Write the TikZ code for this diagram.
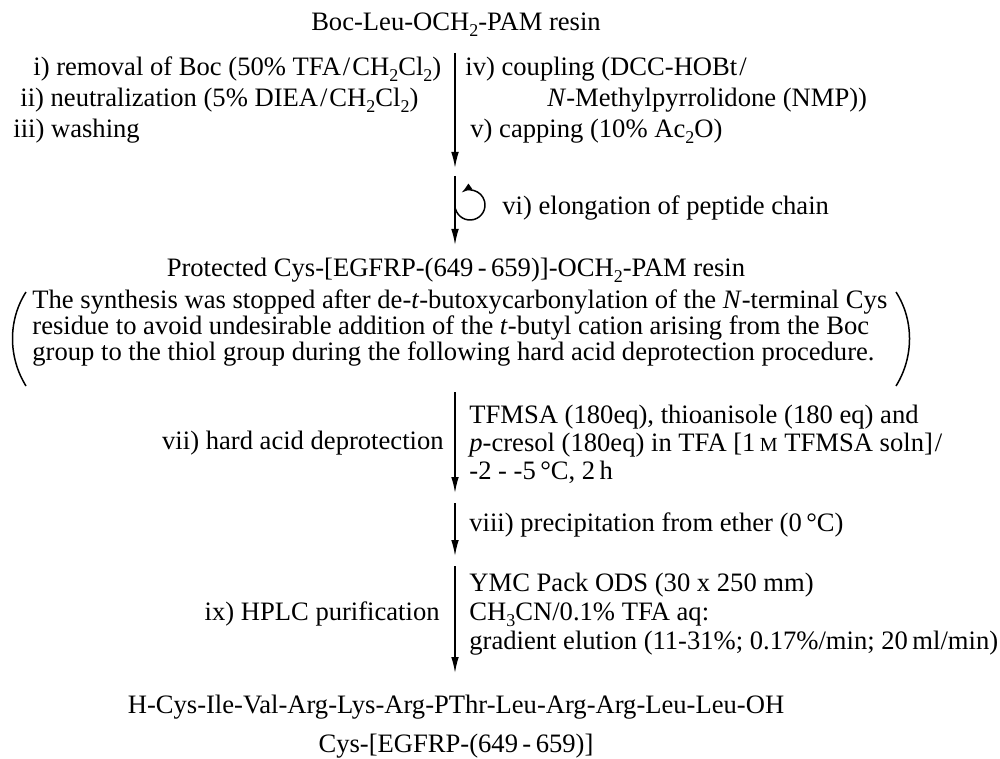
\documentclass[tikz,border=0pt]{standalone}
\usepackage{fontspec}
\setmainfont{Liberation Serif}
\usetikzlibrary{arrows.meta}
\newcommand\sbs[1]{\raisebox{-0.22em}{\fontsize{9}{9}\selectfont #1}}
\newcommand\smM{{\fontsize{10}{10}\selectfont M}}
\begin{document}
\begin{tikzpicture}[x=0.5pt,y=-0.5pt,
  txt/.style={inner sep=0pt, font=\fontsize{13.3}{#1}\selectfont},
  txt/.default=16pt,
  flow/.style={line width=0.75pt, -{Latex[length=8pt,width=3.8pt]}},
  parenline/.style={line width=0.75pt}]
\useasboundingbox (0,0) rectangle (1000,759);

% start material
\node[txt] (start) at (456,25) {Boc-Leu-OCH\sbs{2}-PAM resin};

% step 1
\coordinate (a1s) at (455,53);
\coordinate (a1e) at (455,168);
\draw[flow] (a1s) -- (a1e);
\node[txt=15.5pt, anchor=west, align=left] (s1l) at (13,100) {%
\hspace*{10pt}i) removal of Boc (50\% TFA\kern1pt/\kern1pt CH\sbs{2}Cl\sbs{2})\\
\hspace*{3.5pt}ii) neutralization (5\% DIEA\kern1pt/\kern1pt CH\sbs{2}Cl\sbs{2})\\
iii) washing};
\node[txt=15.5pt, anchor=west, align=left] (s1r) at (465,100) {%
iv) coupling (DCC-HOBt\kern1pt/\\
\hspace*{41pt}\textit{N}-Methylpyrrolidone (NMP))\\
\hspace*{2.5pt}v) capping (10\% Ac\sbs{2}O)};

% step 2 (loop)
\coordinate (a2s) at (455,176);
\coordinate (a2e) at (455,245);
\draw[flow] (a2s) -- (a2e);
\coordinate (lc) at (470,205);
\draw[line width=0.75pt, -{Latex[length=5.5pt,width=3.6pt]}] (lc) ++(165:15) arc[start angle=165, end angle=-125, radius=15];
\node[txt, anchor=west] (s2r) at (502,208) {vi) elongation of peptide chain};

% protected resin
\node[txt] (prot) at (456,270) {Protected Cys-[EGFRP-(649\,-\,659)]-OCH\sbs{2}-PAM resin};

% note in parentheses
\node[txt=12pt, anchor=west, align=left] (note) at (32,328) {The synthesis was stopped after de-\textit{t}-butoxycarbonylation of the \textit{N}-terminal Cys\\
residue to avoid undesirable addition of the \textit{t}-butyl cation arising from the Boc\\
group to the thiol group during the following hard acid deprotection procedure.};
\draw[parenline] (26,292) .. controls (8,320) and (8,357) .. (26,386);
\draw[parenline] (896,292) .. controls (914,320) and (914,357) .. (896,386);

% step 3
\coordinate (a3s) at (455,392);
\coordinate (a3e) at (455,493);
\draw[flow] (a3s) -- (a3e);
\node[txt, anchor=east] (s3l) at (444,443) {vii) hard acid deprotection};
\node[txt=14pt, anchor=west, align=left] (s3r) at (469,444) {TFMSA (180eq), thioanisole (180 eq) and\\
\textit{p}-cresol (180eq) in TFA [1\,\smM\ TFMSA soln]\kern1pt/\\
-2 - -5\,°C, 2\,h};

% step 4
\coordinate (a4s) at (455,503);
\coordinate (a4e) at (455,556);
\draw[flow] (a4s) -- (a4e);
\node[txt, anchor=west] (s4r) at (469,525) {viii) precipitation from ether (0\,°C)};

% step 5
\coordinate (a5s) at (455,566);
\coordinate (a5e) at (455,673);
\draw[flow] (a5s) -- (a5e);
\node[txt, anchor=east] (s5l) at (440,614) {ix) HPLC purification};
\node[txt=14.5pt, anchor=west, align=left] (s5r) at (469,614) {YMC Pack ODS (30 x 250 mm)\\
CH\sbs{3}CN/0.1\% TFA aq:\\
gradient elution (11-31\%; 0.17\%/min; 20\,ml/min)};

% product
\node[txt] (prod) at (456,707) {H-Cys-Ile-Val-Arg-Lys-Arg-PThr-Leu-Arg-Arg-Leu-Leu-OH};
\node[txt] (prodname) at (456,746) {Cys-[EGFRP-(649\,-\,659)]};
\end{tikzpicture}
\end{document}
